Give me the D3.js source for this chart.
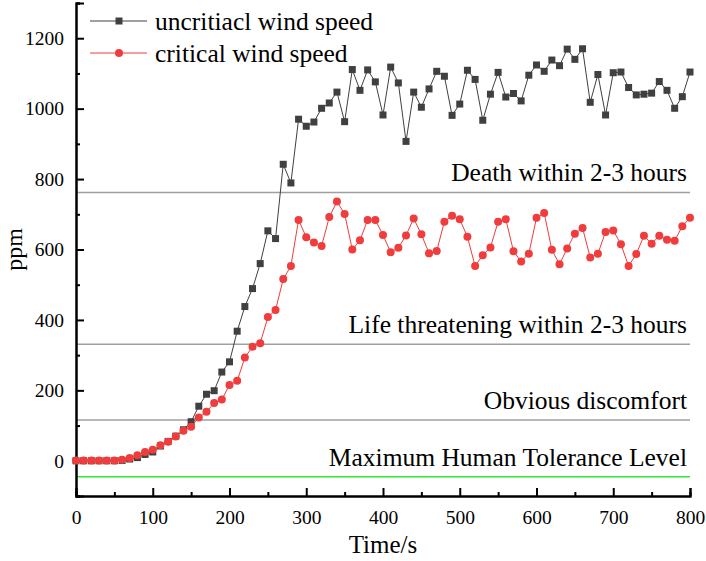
<!DOCTYPE html>
<html lang="en">
<head>
<meta charset="UTF-8">
<title>ppm vs time</title>
<script src="https://d3js.org/d3.v7.min.js"></script>
<style>
  body { margin: 0; background: #fff; }
  svg { font-family: "Liberation Serif", "Times New Roman", serif; }
</style>
</head>
<body>
<div id="chart"></div>
<script>
// time steps, every 10 s
var times = d3.range(0, 801, 10);

var uncritical = [0, 0, 0, 0, 0, 0, 1, 5, 9, 18, 25, 42, 55, 70, 88,
  111, 155, 189, 199, 252, 281, 368, 438, 489, 560, 653, 631, 842, 789,
  970, 950, 962, 1001, 1016, 1047, 963, 1111, 1052, 1110, 1076, 982,
  1118, 1073, 907, 1047, 1004, 1056, 1106, 1092, 981, 1013, 1109, 1083,
  967, 1041, 1103, 1033, 1043, 1022, 1095, 1124, 1106, 1138, 1122, 1169,
  1140, 1170, 1018, 1097, 982, 1102, 1104, 1060, 1039, 1041, 1044, 1077,
  1052, 1001, 1034, 1104];

var critical = [1, 1, 1, 1, 1, 1, 3, 8, 16, 25, 31, 44, 54, 69, 85,
  97, 123, 139, 164, 174, 215, 227, 293, 324, 334, 408, 428, 516, 553,
  684, 635, 620, 610, 692, 736, 701, 600, 626, 684, 684, 641, 592, 605,
  640, 688, 643, 589, 596, 679, 696, 686, 636, 553, 584, 606, 679, 686,
  595, 566, 588, 690, 704, 599, 558, 603, 645, 661, 577, 588, 650, 654,
  615, 553, 587, 639, 616, 639, 628, 625, 666, 690];

var seriesNames = ["uncritiacl wind speed", "critical wind speed"];
var seriesColors = ["#404040", "#f03c3c"];

var levelValues = [762, 331, 116, -45];
var levelNames = ["Death within 2-3 hours", "Life threatening within 2-3 hours",
  "Obvious discomfort", "Maximum Human Tolerance Level"];
var levelColors = ["#a0a0a0", "#a0a0a0", "#a0a0a0", "#33e833"];

var xTicks = [0, 100, 200, 300, 400, 500, 600, 700, 800];
var yTicks = [0, 200, 400, 600, 800, 1000, 1200];

var W = 706, H = 561;
var m = {top: 3, left: 76, right: 16, bottom: 65};

var svg = d3.select('#chart').append('svg')
  .attr('width', W)
  .attr('height', H);

var x = d3.scaleLinear().domain([0, 800]).range([m.left, W - m.right]);
var y = d3.scaleLinear().domain([-100, 1300]).range([H - m.bottom, m.top]);

// reference levels
levelValues.forEach(function(v, i) {
  svg.append('line')
    .attr('x1', x(0)).attr('x2', x(800))
    .attr('y1', y(v)).attr('y2', y(v))
    .attr('stroke', levelColors[i])
    .attr('stroke-width', 1.5);
  svg.append('text')
    .attr('x', x(800) - 3)
    .attr('y', y(v) - 11)
    .attr('text-anchor', 'end')
    .attr('font-size', '25.5px')
    .attr('fill', '#000')
    .text(levelNames[i]);
});

// axes
var xAxis = svg.append('g')
  .attr('transform', 'translate(0,' + (H - m.bottom) + ')')
  .call(d3.axisBottom(x).tickValues(xTicks).tickSize(-8).tickPadding(14).tickFormat(d3.format('d')));
var xMinor = svg.append('g')
  .attr('transform', 'translate(0,' + (H - m.bottom) + ')')
  .call(d3.axisBottom(x).tickValues(d3.range(50, 800, 100)).tickSize(-4).tickFormat(''));

var yAxis = svg.append('g')
  .attr('transform', 'translate(' + m.left + ',0)')
  .call(d3.axisLeft(y).tickValues(yTicks).tickSize(-8).tickPadding(12).tickFormat(d3.format('d')));
var yMinor = svg.append('g')
  .attr('transform', 'translate(' + m.left + ',0)')
  .call(d3.axisLeft(y).tickValues(d3.range(-100, 1301, 200)).tickSize(-4).tickFormat(''));

[xAxis, xMinor, yAxis, yMinor].forEach(function(a) {
  a.selectAll('path').attr('stroke', '#000').attr('stroke-width', 2);
  a.selectAll('line').attr('stroke', '#000').attr('stroke-width', 2);
  a.selectAll('text').attr('font-size', '19.5px').attr('fill', '#000')
    .attr('font-family', '"Liberation Serif", "Times New Roman", serif');
});

svg.append('text')
  .attr('x', (x(0) + x(800)) / 2)
  .attr('y', 553)
  .attr('text-anchor', 'middle')
  .attr('font-size', '25px')
  .text('Time/s');

svg.append('text')
  .attr('transform', 'translate(22,' + y(600) + ') rotate(-90)')
  .attr('text-anchor', 'middle')
  .attr('font-size', '24px')
  .text('ppm');

// series
var allSeries = [uncritical, critical];
var line = d3.line()
  .x(function(d, i) { return x(times[i]); })
  .y(function(d) { return y(d); });

allSeries.forEach(function(vals, s) {
  svg.append('path')
    .datum(vals)
    .attr('fill', 'none')
    .attr('stroke', seriesColors[s])
    .attr('stroke-width', 1)
    .attr('d', line);
  if (s === 0) {
    svg.append('g').selectAll('rect')
      .data(vals).enter().append('rect')
      .attr('x', function(d, i) { return x(times[i]) - 3.5; })
      .attr('y', function(d) { return y(d) - 3.5; })
      .attr('width', 7).attr('height', 7)
      .attr('fill', seriesColors[s]);
  } else {
    svg.append('g').selectAll('circle')
      .data(vals).enter().append('circle')
      .attr('cx', function(d, i) { return x(times[i]); })
      .attr('cy', function(d) { return y(d); })
      .attr('r', 4)
      .attr('fill', seriesColors[s]);
  }
});

// legend
var legend = svg.append('g').attr('id', 'legend');
seriesNames.forEach(function(name, i) {
  var ly = 21 + i * 32;
  legend.append('line')
    .attr('x1', 90).attr('x2', 147)
    .attr('y1', ly).attr('y2', ly)
    .attr('stroke', seriesColors[i]).attr('stroke-width', 1);
  if (i === 0) {
    legend.append('rect')
      .attr('x', 115.5).attr('y', ly - 3.5)
      .attr('width', 7).attr('height', 7)
      .attr('fill', seriesColors[i]);
  } else {
    legend.append('circle')
      .attr('cx', 119).attr('cy', ly).attr('r', 4)
      .attr('fill', seriesColors[i]);
  }
  legend.append('text')
    .attr('x', 155).attr('y', ly + 8.5)
    .attr('font-size', '25.5px')
    .attr('fill', '#000')
    .text(name);
});
</script>
</body>
</html>
